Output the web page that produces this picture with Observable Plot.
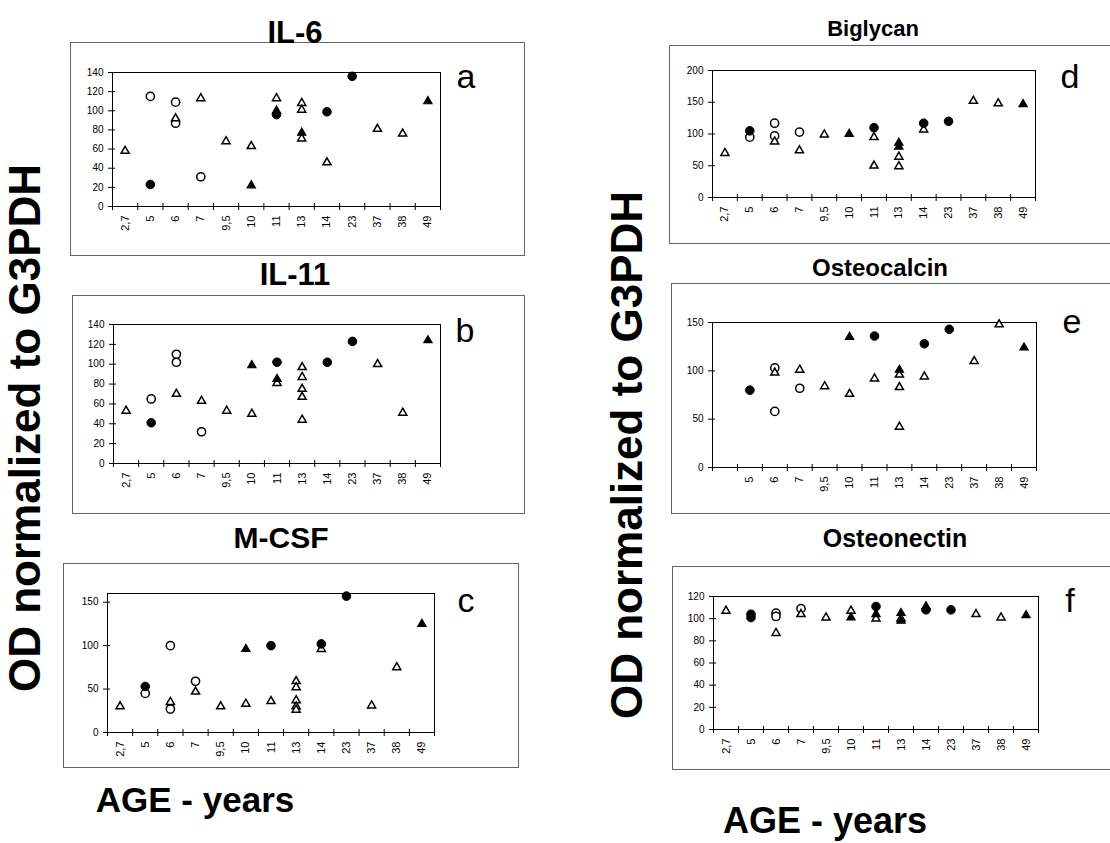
<!DOCTYPE html>
<html><head><meta charset="utf-8">
<script src="https://cdn.jsdelivr.net/npm/d3@7"></script>
<script src="https://cdn.jsdelivr.net/npm/@observablehq/plot@0.6"></script>
<style>
body{margin:0;background:#fff;}
#page{position:relative;width:1110px;height:843px;overflow:hidden;background:#fff;font-family:"Liberation Sans",Arial,sans-serif;color:#000;}
.box{position:absolute;border:1px solid #666;}
#page svg [aria-label^="x-axis"] text{font-size:11px;}
</style>
</head><body><div id="page"></div>
<script>
// ---- categories (age, years) ----
const ages = ["2,7","5","6","7","9,5","10","11","13","14","23","37","38","49"];
const agesOsteocalcin = ["","5","6","7","9,5","10","11","13","14","23","37","38","49"];
// marker groups: oc = open circle, fc = filled circle, ot = open triangle, ft = filled triangle
const il6 = [
 {age:"2,7",v:58,g:"ot"},
 {age:"5",v:115,g:"oc"},{age:"5",v:23,g:"fc"},
 {age:"6",v:109,g:"oc"},{age:"6",v:87,g:"oc"},{age:"6",v:92,g:"ot"},
 {age:"7",v:113,g:"ot"},{age:"7",v:31,g:"oc"},
 {age:"9,5",v:68,g:"ot"},
 {age:"10",v:63,g:"ot"},{age:"10",v:22,g:"ft"},
 {age:"11",v:113,g:"ot"},{age:"11",v:100,g:"ft"},{age:"11",v:96,g:"fc"},
 {age:"13",v:108,g:"ot"},{age:"13",v:101,g:"ot"},{age:"13",v:77,g:"ft"},{age:"13",v:71,g:"ot"},
 {age:"14",v:99,g:"fc"},{age:"14",v:46,g:"ot"},
 {age:"23",v:136,g:"fc"},
 {age:"37",v:81,g:"ot"},
 {age:"38",v:76,g:"ot"},
 {age:"49",v:110,g:"ft"}
];
const il11 = [
 {age:"2,7",v:53,g:"ot"},
 {age:"5",v:65,g:"oc"},{age:"5",v:41,g:"fc"},
 {age:"6",v:110,g:"oc"},{age:"6",v:102,g:"oc"},{age:"6",v:70,g:"ot"},
 {age:"7",v:63,g:"ot"},{age:"7",v:32,g:"oc"},
 {age:"9,5",v:53,g:"ot"},
 {age:"10",v:99,g:"ft"},{age:"10",v:50,g:"ot"},
 {age:"11",v:102,g:"fc"},{age:"11",v:85,g:"ft"},{age:"11",v:81,g:"ot"},
 {age:"13",v:97,g:"ot"},{age:"13",v:87,g:"ot"},{age:"13",v:75,g:"ot"},{age:"13",v:67,g:"ot"},{age:"13",v:44,g:"ot"},
 {age:"14",v:102,g:"fc"},
 {age:"23",v:123,g:"fc"},
 {age:"37",v:100,g:"ot"},
 {age:"38",v:51,g:"ot"},
 {age:"49",v:124,g:"ft"}
];
const mcsf = [
 {age:"2,7",v:30,g:"ot"},
 {age:"5",v:53,g:"fc"},{age:"5",v:45,g:"oc"},
 {age:"6",v:100,g:"oc"},{age:"6",v:35,g:"ot"},{age:"6",v:27,g:"oc"},
 {age:"7",v:59,g:"oc"},{age:"7",v:47,g:"ot"},
 {age:"9,5",v:30,g:"ot"},
 {age:"10",v:96,g:"ft"},{age:"10",v:33,g:"ot"},
 {age:"11",v:100,g:"fc"},{age:"11",v:36,g:"ot"},
 {age:"13",v:59,g:"ot"},{age:"13",v:52,g:"ot"},{age:"13",v:37,g:"ot"},{age:"13",v:30,g:"ot"},{age:"13",v:26,g:"ot"},
 {age:"14",v:102,g:"fc"},{age:"14",v:96,g:"ot"},
 {age:"23",v:157,g:"fc"},
 {age:"37",v:31,g:"ot"},
 {age:"38",v:75,g:"ot"},
 {age:"49",v:125,g:"ft"}
];
const biglycan = [
 {age:"2,7",v:70,g:"ot"},
 {age:"5",v:105,g:"fc"},{age:"5",v:95,g:"oc"},
 {age:"6",v:117,g:"oc"},{age:"6",v:97,g:"oc"},{age:"6",v:88,g:"ot"},
 {age:"7",v:103,g:"oc"},{age:"7",v:74,g:"ot"},
 {age:"9,5",v:99,g:"ot"},
 {age:"10",v:100,g:"ft"},
 {age:"11",v:110,g:"fc"},{age:"11",v:95,g:"ot"},{age:"11",v:50,g:"ot"},
 {age:"13",v:86,g:"ft"},{age:"13",v:80,g:"ft"},{age:"13",v:64,g:"ot"},{age:"13",v:49,g:"ot"},
 {age:"14",v:117,g:"fc"},{age:"14",v:107,g:"ot"},
 {age:"23",v:120,g:"fc"},
 {age:"37",v:152,g:"ot"},
 {age:"38",v:148,g:"ot"},
 {age:"49",v:147,g:"ft"}
];
const osteocalcin = [
 {age:"5",v:80,g:"fc"},
 {age:"6",v:103,g:"oc"},{age:"6",v:98,g:"ot"},{age:"6",v:58,g:"oc"},
 {age:"7",v:101,g:"ot"},{age:"7",v:82,g:"oc"},
 {age:"9,5",v:84,g:"ot"},
 {age:"10",v:135,g:"ft"},{age:"10",v:76,g:"ot"},
 {age:"11",v:136,g:"fc"},{age:"11",v:92,g:"ot"},
 {age:"13",v:101,g:"ft"},{age:"13",v:96,g:"ot"},{age:"13",v:83,g:"ot"},{age:"13",v:42,g:"ot"},
 {age:"14",v:128,g:"fc"},{age:"14",v:94,g:"ot"},
 {age:"23",v:143,g:"fc"},
 {age:"37",v:110,g:"ot"},
 {age:"38",v:148,g:"ot"},
 {age:"49",v:124,g:"ft"}
];
const osteonectin = [
 {age:"2,7",v:107,g:"ot"},
 {age:"5",v:104,g:"fc"},{age:"5",v:101,g:"fc"},
 {age:"6",v:105,g:"oc"},{age:"6",v:102,g:"oc"},{age:"6",v:87,g:"ot"},
 {age:"7",v:109,g:"oc"},{age:"7",v:104,g:"ot"},
 {age:"9,5",v:101,g:"ot"},
 {age:"10",v:107,g:"ot"},{age:"10",v:101,g:"ft"},
 {age:"11",v:111,g:"fc"},{age:"11",v:104,g:"ft"},{age:"11",v:100,g:"ot"},
 {age:"13",v:105,g:"ft"},{age:"13",v:100,g:"ot"},{age:"13",v:98,g:"ft"},
 {age:"14",v:111,g:"ft"},{age:"14",v:108,g:"fc"},
 {age:"23",v:108,g:"fc"},
 {age:"37",v:104,g:"ot"},
 {age:"38",v:101,g:"ot"},
 {age:"49",v:103,g:"ft"}
];
const ticks140 = [0,20,40,60,80,100,120,140];
const ticks160 = [0,50,100,150];
const ticks200 = [0,50,100,150,200];
const ticks150 = [0,50,100,150];
const ticks120 = [0,20,40,60,80,100,120];

const page = document.getElementById("page");
const FONT = '"Liberation Sans", Arial, sans-serif';

// outer panel boxes
[[70,42,523,254],[72,295,523,512],[63,563,517,766],[669,45,1120,242],[671,283,1120,512],[672,566,1120,768]]
.forEach(([l,t,r,b]) => {
  const d = document.createElement("div");
  d.className = "box";
  Object.assign(d.style,{left:l+"px",top:t+"px",width:(r-l)+"px",height:(b-t)+"px"});
  page.appendChild(d);
});

// static text overlay
const ov = d3.select(page).append("svg").attr("width",1110).attr("height",843)
  .style("position","absolute").style("left","0").style("top","0")
  .style("font-family",FONT);
const txt = (s,x,y,size,weight,rot) => {
  const t = ov.append("text").text(s).attr("text-anchor","middle")
    .attr("font-size",size).attr("font-weight",weight).attr("fill","#000");
  if (rot) t.attr("transform",`translate(${x},${y}) rotate(-90)`);
  else t.attr("x",x).attr("y",y);
};
txt("IL-6",295,43,31,"bold");
txt("IL-11",295,285,31,"bold");
txt("M-CSF",281,548,30,"bold");
txt("Biglycan",873,36,22,"bold");
txt("Osteocalcin",880,276,24,"bold");
txt("Osteonectin",895,547,25,"bold");
txt("a",466,88,34,"normal");
txt("b",465,342,34,"normal");
txt("c",466,612,34,"normal");
txt("d",1070,88,34,"normal");
txt("e",1072,333,34,"normal");
txt("f",1070,612,34,"normal");
txt("OD normalized to G3PDH",40,428,44,"bold",true);
txt("OD normalized to G3PDH",642,455,44,"bold",true);
txt("AGE - years",195,812,35,"bold");
txt("AGE - years",825,833,36,"bold");

function panel(p){
  const n = p.labels.length;
  const W = p.R - p.L, H = p.B - p.T;
  const mL = 42, mR = 8, mT = 8, mB = 44;
  const centers = d3.range(n).map(i => i + 0.5);
  const bounds = d3.range(n + 1);
  const xOf = d => p.labels.indexOf(d.age) + 0.5;
  const mk = (g, sym, fill, r, sw) => Plot.dot(p.data.filter(d => d.g === g),
    {x: xOf, y: "v", symbol: sym, fill, stroke: "#000", r, strokeWidth: sw});
  const chart = Plot.plot({
    width: W + mL + mR, height: H + mT + mB,
    marginLeft: mL, marginRight: mR, marginTop: mT, marginBottom: mB,
    style: {fontFamily: FONT, fontSize: "10px", color: "#000", background: "transparent", overflow: "visible"},
    x: {domain: [0, n], ticks: centers, tickFormat: i => p.labels[Math.round(i - 0.5)], tickSize: 0, tickRotate: -90, tickPadding: 9, label: null},
    y: {domain: [0, p.ymax], ticks: p.yticks, tickSize: 4, tickPadding: 5, label: null},
    marks: [
      Plot.frame({stroke: "#000", strokeWidth: 1}),
      Plot.tickY(p.yticks, {y: d => d, insetRight: W - 3, stroke: "#000"}),
      Plot.tickX(bounds, {x: d => d, insetTop: H - 3, insetBottom: -4, stroke: "#000"}),
      mk("oc","circle","#fff",4.1,1.5),
      mk("ot","triangle","#fff",3.0,1.5),
      mk("ft","triangle","#000",3.0,1.3),
      mk("fc","circle","#000",4.3,1)
    ]
  });
  chart.style.position = "absolute";
  chart.style.left = (p.L - mL) + "px";
  chart.style.top = (p.T - mT) + "px";
  page.appendChild(chart);
}

panel({data: il6, labels: ages, ymax: 140, yticks: ticks140, L:112, R:440, T:72, B:206});
panel({data: il11, labels: ages, ymax: 140, yticks: ticks140, L:113, R:440, T:324, B:463});
panel({data: mcsf, labels: ages, ymax: 160, yticks: ticks160, L:107, R:434, T:593, B:732});
panel({data: biglycan, labels: ages, ymax: 200, yticks: ticks200, L:712, R:1035, T:70, B:197});
panel({data: osteocalcin, labels: agesOsteocalcin, ymax: 150, yticks: ticks150, L:712, R:1036, T:322, B:467});
panel({data: osteonectin, labels: ages, ymax: 120, yticks: ticks120, L:713, R:1038, T:596, B:729});
</script>
</body></html>
